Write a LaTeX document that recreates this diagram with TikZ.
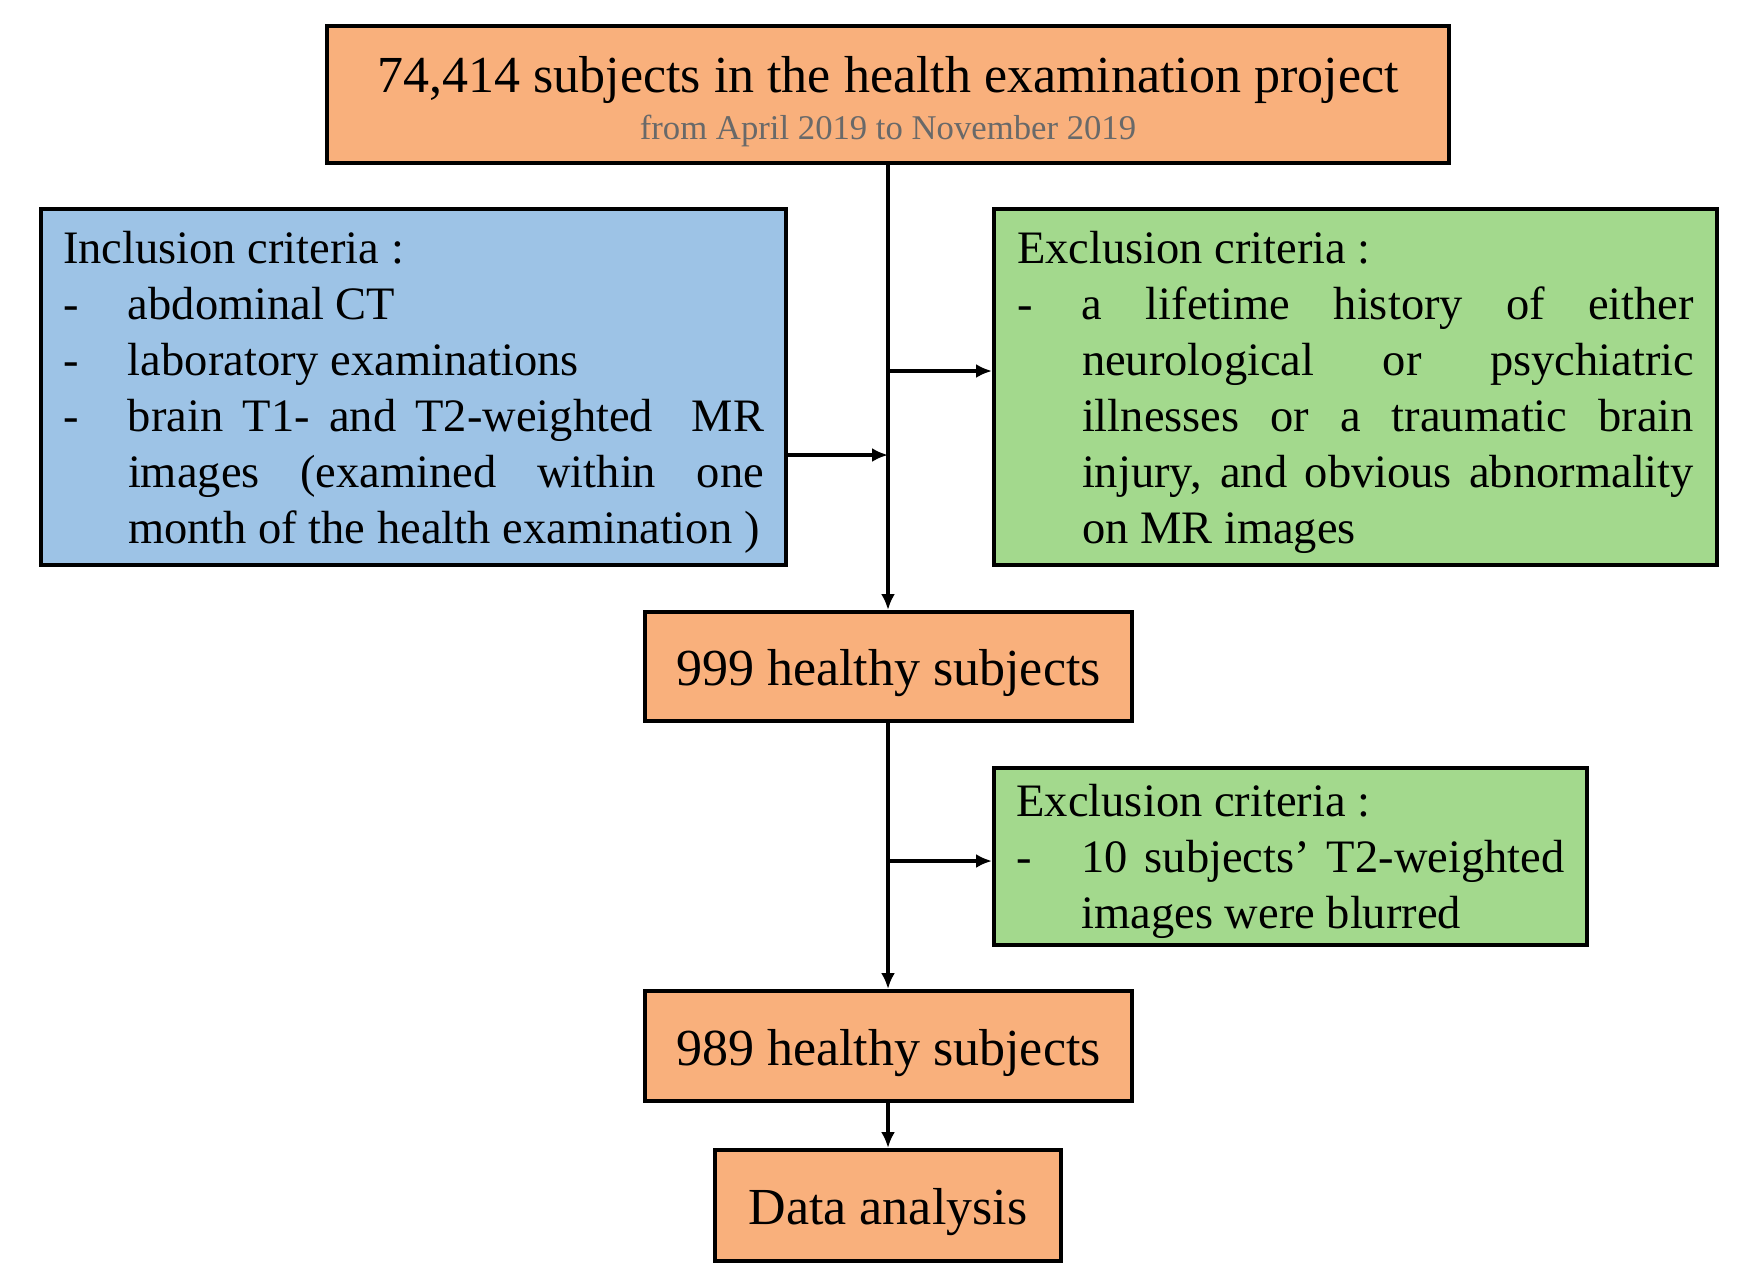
\documentclass[tikz,border=0pt]{standalone}
\usepackage{fontspec}
\setmainfont{Liberation Serif}
\usetikzlibrary{arrows.meta}
\definecolor{orangeF}{RGB}{249,176,124}
\definecolor{blueF}{RGB}{157,195,230}
\definecolor{greenF}{RGB}{163,217,141}
\definecolor{subgray}{RGB}{105,105,105}
\newcommand{\critem}[1]{\par\hangindent=32.5pt\hangafter=1\noindent\makebox[32.5pt][l]{-}#1}
\newcommand{\bodyfont}{\fontsize{23.25}{28}\selectfont}
\begin{document}
\begin{tikzpicture}[x=0.5pt,y=-0.5pt,
  box/.style={draw=black,line width=2pt,inner sep=0pt,align=center},
  obox/.style={box,fill=orangeF,font=\fontsize{26}{31}\selectfont},
  otext/.style={text height=22pt,text depth=3pt},
  conn/.style={line width=1.8pt,-{Latex[length=8pt,width=7pt]}}]
\useasboundingbox (0,0) rectangle (1750,1280);
% boxes
\node[obox,minimum width=561pt,minimum height=68.5pt] (top) at (888,94.5) {};
\node[anchor=base,font=\fontsize{26}{31}\selectfont] (toptitle) at (888,92) {74,414 subjects in the health examination project};
\node[anchor=base,font=\fontsize{17.35}{21}\selectfont,text=subgray] (topsub) at (888,139) {from April 2019 to November 2019};
\node[box,fill=blueF,minimum width=372.5pt,minimum height=178pt] (incl) at (413.5,387) {%
\begin{minipage}{350.5pt}\bodyfont\vspace*{5pt}
\noindent Inclusion criteria :
\critem{abdominal CT}
\critem{laboratory examinations}
\critem{brain T1- and T2-weighted\ \ MR\linebreak images (examined within one\linebreak month of the health examination )}
\end{minipage}};
\node[box,fill=greenF,minimum width=361.5pt,minimum height=178pt] (excl1) at (1355.5,387) {%
\begin{minipage}{338.5pt}\bodyfont\vspace*{5pt}
\noindent Exclusion criteria :
\critem{a lifetime history of either\linebreak neurological or psychiatric\linebreak illnesses or a traumatic brain\linebreak injury, and obvious abnormality\linebreak on MR images}
\end{minipage}};
\node[obox,otext,minimum width=243.5pt,minimum height=54.5pt] (n999) at (888.5,666.5) {999 healthy subjects};
\node[box,fill=greenF,minimum width=296.5pt,minimum height=88.5pt] (excl2) at (1290.5,856.5) {%
\begin{minipage}{274pt}\bodyfont\vspace*{5pt}
\noindent Exclusion criteria :
\critem{10 subjects’ T2-weighted\linebreak images were blurred}
\end{minipage}};
\node[obox,otext,minimum width=243.5pt,minimum height=55pt] (n989) at (888.5,1046) {989 healthy subjects};
\node[obox,otext,minimum width=173pt,minimum height=55.5pt] (data) at (888,1205.5) {Data analysis};
% junctions
\coordinate (j1) at (888,371);
\coordinate (j2) at (888,455);
\coordinate (j3) at (888,861);
% connectors
\draw[conn] (top.south -| j1) -- (n999.north -| j1);
\draw[conn] (j1) -- (j1 -| excl1.west);
\draw[conn] (j2 -| incl.east) -- (j2);
\draw[conn] (n999.south -| j3) -- (n989.north -| j3);
\draw[conn] (j3) -- (j3 -| excl2.west);
\draw[conn] (n989.south -| j3) -- (data.north -| j3);
\end{tikzpicture}
\end{document}
